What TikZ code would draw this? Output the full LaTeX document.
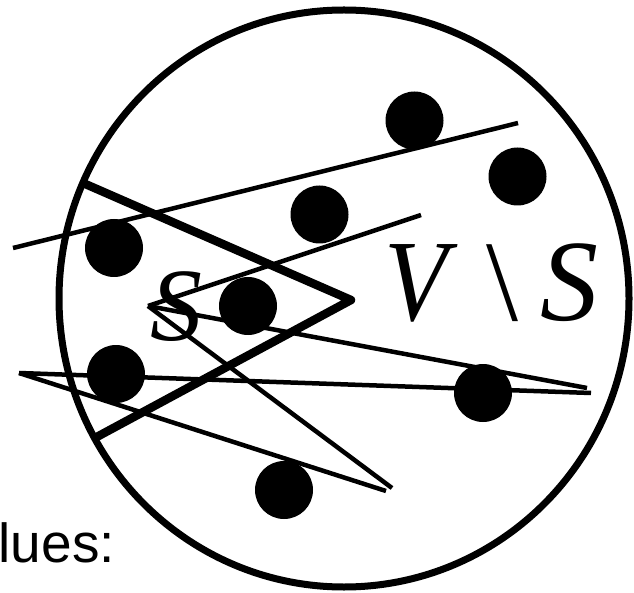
\documentclass[tikz,border=0pt]{standalone}
\usepackage{fontspec}
\usepackage{graphicx}
\setmainfont{Liberation Serif}
\newfontfamily\labelsans{Liberation Sans}
\begin{document}
\begin{tikzpicture}[x=1pt,y=-1pt,
  dot/.style={circle,fill=black,draw=none,minimum size=58pt,inner sep=0pt},
  thinedge/.style={line width=4.5pt},
  cutedge/.style={line width=8.5pt,line join=round},
  rim/.style={line width=7pt},
  bigletter/.style={inner sep=0pt,anchor=base west,font=\fontsize{115}{115}\selectfont}]
\useasboundingbox (0,0) rectangle (634,593);
% outer set
\draw[rim] (344,298.5) ellipse [x radius=285pt, y radius=288.5pt];
% line end points
\coordinate (a1) at (13,248);
\coordinate (a2) at (518,123);
\coordinate (s0) at (148,306);
\coordinate (b2) at (421,215);
\coordinate (b3) at (587,388);
\coordinate (b4) at (392,488);
\coordinate (c0) at (19,373);
\coordinate (c1) at (591,393);
\coordinate (c2) at (386,491);
\coordinate (t1) at (83,183);
\coordinate (t2) at (351,300);
\coordinate (t3) at (93,439);
% edges
\draw[thinedge] (a1) -- (a2);
\draw[thinedge] (s0) -- (b2);
\draw[thinedge] (s0) -- (b3);
\draw[thinedge] (s0) -- (b4);
\draw[thinedge] (c0) -- (c1);
\draw[thinedge] (c0) -- (c2);
% cut
\draw[cutedge] (t1) -- (t2) -- (t3);
% vertices
\node[dot] (d1) at (414.5,120.5) {};
\node[dot] (d2) at (517.5,176.5) {};
\node[dot] (d3) at (319.5,214.5) {};
\node[dot] (d4) at (114,248) {};
\node[dot] (d5) at (248,306) {};
\node[dot] (d6) at (116,374) {};
\node[dot] (d7) at (483,393) {};
\node[dot] (d8) at (284,490) {};
% labels
\node[bigletter,font=\fontsize{104}{104}\selectfont\itshape] (S) at (150.5,341) {S};
\node[bigletter,font=\fontsize{116}{116}\selectfont\itshape] (V) at (384.7,321) {\scalebox{0.896}[1]{V}};
\node[bigletter] (bs) at (486,321) {\textbackslash};
\node[bigletter,font=\fontsize{116}{116}\selectfont\itshape] (S2) at (540,321) {S};
\node[inner sep=0pt,anchor=base west,font=\labelsans\fontsize{55}{55}\selectfont] (lbl) at (-1.5,562) {lues:};
\end{tikzpicture}
\end{document}
